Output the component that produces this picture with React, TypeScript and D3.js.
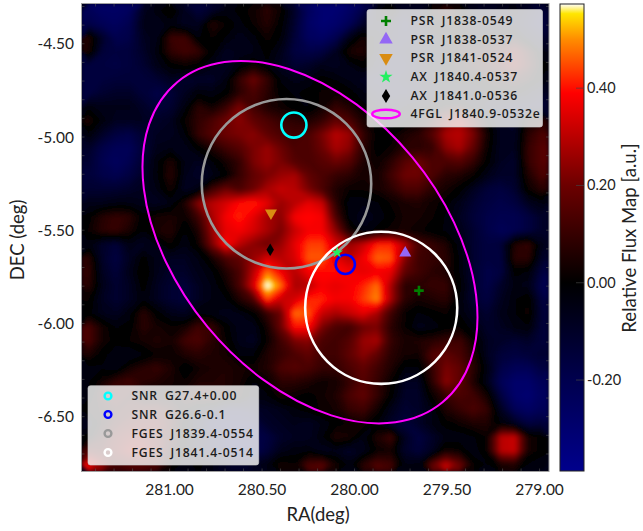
import * as d3 from "d3";

// relative flux x 100 on a coarse grid (row = DEC, top first; col = RA, left first)
const fluxRows: number[][] = [
  [-22,-26,-26,-24,-8,-3,3,-8,-14,-10,-4,0,3,8,2,-10,-24,-30,-30,-26,-18,-2,3,-8,-8,2,8,3,-5,-8,-5,-3,-8,-12],
  [-18,-22,-24,-20,-6,-6,-3,-8,-8,7,2,-3,2,7,0,-12,-26,-30,-28,-22,-10,-5,-6,-12,-6,0,2,0,-4,-5,-4,-5,-10,-14],
  [7,-10,-20,-18,-8,-5,11,12,-2,2,-2,-6,-3,3,-2,-14,-24,-26,-20,-5,4,-3,-8,-10,-8,-4,0,2,-2,0,3,3,-5,-10],
  [5,-14,-16,-15,-10,-3,9,12,10,0,-8,-6,-5,0,-6,-16,-18,-16,-8,5,6,-4,-10,-8,-6,-4,-2,2,4,6,10,18,8,-4],
  [-15,-16,-17,-15,-12,-6,0,2,0,-5,-8,-2,3,-2,-8,-12,-10,-6,-8,-4,0,-6,-10,-10,-6,-3,0,3,6,8,12,20,10,0],
  [-16,-15,-14,-14,-14,-12,-8,-10,-10,-10,-4,10,20,10,-2,-6,-4,0,-2,-5,-8,-10,-10,-8,-6,-4,-2,0,0,3,5,8,4,-2],
  [-16,-12,-10,-10,-14,-18,-14,-8,-2,-4,0,8,14,8,0,-2,0,2,3,0,-4,-8,-10,-10,-8,-6,-4,-4,-4,-2,0,0,-4,-8],
  [-3,-6,-6,-6,-10,-14,-12,-4,8,3,10,22,12,6,3,0,-2,3,10,6,0,-4,-6,-4,-2,-1,2,4,-2,-6,-8,-10,-10,-12],
  [6,-3,-8,-8,-8,-10,-8,2,9,14,20,24,18,14,10,8,6,10,18,14,5,0,-4,-2,2,8,20,26,14,0,-8,-10,4,8],
  [-2,-10,-16,-18,-12,-8,-8,-2,10,16,20,22,24,18,14,12,14,22,30,26,10,0,0,5,8,16,28,30,22,4,-8,-8,8,14],
  [-10,-18,-22,-22,-14,-6,-4,-6,0,6,12,16,22,26,20,14,14,20,28,24,8,0,2,8,8,10,24,28,18,2,-8,-8,10,16],
  [-12,-20,-24,-20,-12,-2,6,-4,-8,-2,4,10,22,26,22,16,14,16,20,16,6,2,8,16,20,14,14,16,10,0,-8,-10,10,16],
  [-14,-18,-20,-16,-10,-2,8,-6,-10,-6,0,10,18,22,26,28,18,14,10,8,4,4,12,20,20,14,8,6,2,-6,-10,-10,6,14],
  [-12,-12,-12,-10,-8,-4,4,-8,-4,12,20,14,20,28,32,30,22,14,6,2,2,4,8,14,14,8,4,0,-8,-14,-16,-12,2,8],
  [-6,-6,-4,-4,-6,-8,-4,6,24,30,34,40,42,36,26,30,36,32,8,-4,-4,-2,2,5,6,3,0,-6,-12,-16,-18,-16,-8,-4],
  [0,7,10,8,0,4,5,2,12,28,38,42,36,28,24,38,40,38,14,-3,-6,-4,0,4,4,2,-2,-8,-14,-18,-20,-20,-16,-10],
  [2,8,10,5,-2,5,7,-2,6,26,36,38,34,28,22,32,38,38,24,4,-4,0,3,4,2,0,-2,-6,-12,-18,-22,-20,-16,-10],
  [-3,-10,-14,-5,-8,-4,2,-4,2,22,40,30,24,20,26,36,44,44,34,26,32,42,42,30,14,10,6,-4,-12,-16,-14,6,10,-6],
  [8,-10,-16,-8,0,-6,-8,-8,-4,4,14,18,26,34,30,34,46,46,36,30,38,47,46,24,12,10,8,-2,-12,-16,-16,8,8,-10],
  [10,-8,-14,-6,2,-6,-10,-10,-6,-2,6,14,30,48,38,30,38,40,40,38,36,38,36,18,12,8,6,-2,-12,-18,-16,0,-2,-16],
  [8,-6,-12,-8,0,-8,-12,-14,-8,-4,2,14,34,60,48,28,30,38,36,38,42,48,28,8,8,10,10,0,-12,-18,-10,-4,-6,-20],
  [2,-8,-12,-8,-2,-8,-12,-14,-8,-4,-2,6,14,44,32,34,42,42,38,38,44,50,28,8,4,6,8,-2,-12,-16,-8,-2,2,-16],
  [0,-6,-8,-3,8,0,-6,-8,-2,-4,-6,-4,0,10,20,48,46,32,28,32,36,28,12,2,-2,0,2,-2,-8,-12,-6,-2,3,-14],
  [14,4,-2,0,8,4,2,4,12,10,0,-6,-6,4,20,40,40,22,14,12,20,22,8,2,-6,-4,0,2,-4,-10,-8,-4,-2,-14],
  [14,4,0,2,4,6,4,12,14,8,2,-6,-8,2,12,22,24,14,12,16,26,28,10,5,6,8,10,12,2,-8,-10,-12,-10,-14],
  [6,0,-4,-6,-2,2,2,6,8,6,4,-2,-2,6,10,14,18,12,12,18,24,18,8,4,3,15,18,14,6,-8,-14,-16,-14,-12],
  [-3,-2,-4,4,8,10,6,-2,3,5,6,4,3,6,14,16,14,10,10,14,18,12,6,-2,-2,10,22,18,8,-4,-18,-22,-22,-16],
  [-2,4,10,12,8,6,4,2,6,6,6,4,-2,2,8,8,6,3,4,10,16,10,2,-8,-8,8,24,18,6,-6,-22,-28,-28,-22],
  [-2,8,12,8,2,2,2,6,8,8,6,3,-4,-2,4,2,0,3,6,14,18,10,0,-10,-10,2,10,14,12,4,-16,-28,-30,-24],
  [2,4,8,10,12,12,8,2,-3,-6,-12,-12,-10,-8,-6,-2,0,2,4,10,12,4,-6,-12,-10,-4,6,10,14,10,-8,-22,-26,-22],
  [-5,4,10,14,16,16,10,0,-8,-14,-16,-16,-16,-10,-8,-6,-8,-4,0,2,4,-2,-10,-14,-10,-4,0,3,6,6,-2,-8,-16,-14],
  [0,8,16,20,20,16,8,0,-6,-12,-16,-18,-18,-16,-10,-8,-8,-2,6,4,-4,6,12,-8,-16,-10,-4,-4,-2,2,30,32,4,0],
  [14,12,18,24,24,18,6,-2,-8,-12,-16,-20,-20,-14,-6,-3,-2,-6,-6,-10,-6,2,4,-10,-14,-8,4,2,-4,2,30,32,4,0],
  [36,24,12,14,14,12,2,-3,0,-4,-8,-10,-8,-4,4,2,14,16,4,-3,8,15,12,-4,-4,18,32,20,2,-2,4,6,-2,-4],
];

const raTicks = [281, 280.5, 280, 279.5, 279];
const decTicks = [-4.5, -5, -5.5, -6, -6.5];
const cbarTicks = [0.4, 0.2, 0, -0.2];

const colorStops = [-0.387, -0.2, 0, 0.2, 0.39, 0.5, 0.553, 0.573];
const colorValues = ["#00008c", "#00004e", "#000000", "#6c0000", "#ff0000", "#ff8c00", "#ffe600", "#ffffff"];

const pointSources = [
  { name: "PSR J1838-0549", ra: 279.652, dec: -5.824, color: "#007f00", kind: "plus" },
  { name: "PSR J1838-0537", ra: 279.726, dec: -5.622, color: "#9467f5", kind: "up" },
  { name: "PSR J1841-0524", ra: 280.452, dec: -5.408, color: "#d98c12", kind: "down" },
  { name: "AX J1840.4-0537", ra: 280.094, dec: -5.619, color: "#22f060", kind: "star" },
  { name: "AX J1841.0-0536", ra: 280.456, dec: -5.605, color: "#000000", kind: "diamond" },
];

const circleSources = [
  { name: "SNR G27.4+0.00", ra: 280.328, dec: -4.936, radius: 0.068, color: "#00ffff" },
  { name: "SNR G26.6-0.1", ra: 280.05, dec: -5.683, radius: 0.052, color: "#0000ff" },
  { name: "FGES J1839.4-0554", ra: 280.368, dec: -5.251, radius: 0.458, color: "#999999" },
  { name: "FGES J1841.4-0514", ra: 279.856, dec: -5.916, radius: 0.411, color: "#ffffff" },
];

const ellipseSource = { name: "4FGL J1840.9-0532e", ra: 280.241, dec: -5.564, major: 1.115, minor: 0.713, angle: 50.4, color: "#ff00ff" };

const plot = { left: 81.5, right: 549, top: 3.5, bottom: 471.5 };
const cbar = { left: 560, right: 584, top: 4, bottom: 471 };
const font = "Lato, 'Noto Sans', sans-serif";
const legendFont = "'Open Sans', 'Noto Sans', sans-serif";

const x = d3.scaleLinear().domain([281.476, 278.949]).range([plot.left, plot.right]);
const y = d3.scaleLinear().domain([-4.284, -6.794]).range([plot.top, plot.bottom]);
const cbarY = d3.scaleLinear().domain([-0.387, 0.573]).range([cbar.bottom, cbar.top]);
const color = d3.scaleLinear<string>().domain(colorStops).range(colorValues).clamp(true);

const nRows = fluxRows.length;
const nCols = fluxRows[0].length;
const levels = d3.range(-40, 60, 0.5);
const bands = d3.contours().size([nCols, nRows]).thresholds(levels)(fluxRows.flat());
const gridPath = d3.geoPath();

const pxPerRa = Math.abs(x(280) - x(281));
const pxPerDec = Math.abs(y(-5.5) - y(-4.5));

// plain hyphen on the tick labels, like the reference
const fmt = (v: number) => d3.format(".2f")(v).replace("\u2212", "-");

const rangeBy = (a: number, b: number, step: number) => d3.range(a, b + step / 2, step);
const raMinor = rangeBy(279, 281.4, 0.1);
const decMinor = rangeBy(-6.7, -4.3, 0.1);

function Marker({ kind, cx, cy, color: c, size }: { kind: string; cx: number; cy: number; color: string; size: number }) {
  if (kind === "plus") {
    return <path d={`M${cx - size},${cy}H${cx + size}M${cx},${cy - size}V${cy + size}`} stroke={c} strokeWidth={2.6} fill="none" />;
  }
  if (kind === "diamond") {
    return <path d={`M${cx},${cy - size * 1.25}L${cx + size * 0.75},${cy}L${cx},${cy + size * 1.25}L${cx - size * 0.75},${cy}Z`} fill={c} />;
  }
  const type = kind === "star" ? d3.symbolStar : d3.symbolTriangle;
  const area = kind === "star" ? size * size * 1.7 : size * size * 2.5;
  const rot = kind === "down" ? 180 : 0;
  return <path d={d3.symbol().type(type).size(area)() ?? ""} transform={`translate(${cx},${cy}) rotate(${rot})`} fill={c} />;
}

function Legend() {
  const rowsTop = [21, 39.5, 58, 77, 96];
  const rowsBottom = [396, 414.5, 433.5, 452.5];
  const textStyle = { fontFamily: legendFont, fontSize: 12.2, fontWeight: 600, fill: "#1c1c1c", letterSpacing: 0.8, wordSpacing: 3 };
  return (
    <g>
      <rect x={367} y={9.5} width={175.5} height={117.5} rx={2.5} fill="#fff" fillOpacity={0.8} stroke="#ccc" strokeOpacity={0.8} strokeWidth={0.8} />
      {pointSources.map((s, i) => (
        <g key={s.name}>
          <Marker kind={s.kind} cx={386} cy={rowsTop[i]} color={s.color} size={s.kind === "plus" ? 5 : 5.6} />
          <text x={410.5} y={rowsTop[i] + 4.2} style={textStyle}>{s.name}</text>
        </g>
      ))}
      <ellipse cx={386} cy={114} rx={13.8} ry={4.3} fill="none" stroke={ellipseSource.color} strokeWidth={2.4} />
      <text x={410.5} y={118.2} style={textStyle}>{ellipseSource.name}</text>

      <rect x={88} y={385.7} width={170.7} height={79.3} rx={2.5} fill="#fff" fillOpacity={0.8} stroke="#ccc" strokeOpacity={0.8} strokeWidth={0.8} />
      {circleSources.map((s, i) => (
        <g key={s.name}>
          <circle cx={108} cy={rowsBottom[i]} r={3.4} fill="none" stroke={s.color} strokeWidth={2.4} />
          <text x={131.5} y={rowsBottom[i] + 4.2} style={textStyle}>{s.name}</text>
        </g>
      ))}
    </g>
  );
}

export default function App() {
  const tickStyle = { fontFamily: font, fontSize: 15.5, fill: "#222" };
  return (
    <svg width={643} height={531} style={{ position: "absolute", left: 0, top: 0, background: "#fff" }}>
      <defs>
        <clipPath id="plotClip">
          <rect x={plot.left} y={plot.top} width={plot.right - plot.left} height={plot.bottom - plot.top} />
        </clipPath>
        <filter id="soften" x="-5%" y="-5%" width="110%" height="110%">
          <feGaussianBlur stdDeviation={2} />
        </filter>
        <linearGradient id="cbarGrad" x1="0" y1="1" x2="0" y2="0">
          {colorStops.map((v, i) => (
            <stop key={v} offset={(v - colorStops[0]) / (colorStops[colorStops.length - 1] - colorStops[0])} stopColor={colorValues[i]} />
          ))}
        </linearGradient>
      </defs>

      {/* flux map */}
      <g clipPath="url(#plotClip)">
        <rect x={plot.left} y={plot.top} width={plot.right - plot.left} height={plot.bottom - plot.top} fill="#000018" />
        <g filter="url(#soften)">
          <g transform={`translate(${plot.left},${plot.top}) scale(${(plot.right - plot.left) / nCols},${(plot.bottom - plot.top) / nRows})`}>
            {bands.map((b) => (
              <path key={b.value} d={gridPath(b) ?? ""} fill={color(b.value / 100)} stroke="none" />
            ))}
          </g>
        </g>

        <ellipse
          cx={x(ellipseSource.ra)}
          cy={y(ellipseSource.dec)}
          rx={ellipseSource.major * pxPerDec}
          ry={ellipseSource.minor * pxPerDec}
          transform={`rotate(${ellipseSource.angle} ${x(ellipseSource.ra)} ${y(ellipseSource.dec)})`}
          fill="none"
          stroke={ellipseSource.color}
          strokeWidth={2}
        />
        {[circleSources[2], circleSources[3], circleSources[0], circleSources[1]].map((s) => (
          <circle key={s.name} cx={x(s.ra)} cy={y(s.dec)} r={s.radius * pxPerRa} fill="none" stroke={s.color} strokeWidth={2.6} />
        ))}
        {pointSources.map((s) => (
          <Marker key={s.name} kind={s.kind} cx={x(s.ra)} cy={y(s.dec)} color={s.color} size={s.kind === "plus" ? 4.8 : 5} />
        ))}
      </g>

      {/* minor ticks, inward on all four sides */}
      {raMinor.map((v) => (
        <g key={v} stroke="#555" strokeWidth={0.6}>
          <line x1={x(v)} x2={x(v)} y1={plot.top} y2={plot.top + 3} />
          <line x1={x(v)} x2={x(v)} y1={plot.bottom} y2={plot.bottom - 3} />
        </g>
      ))}
      {decMinor.map((v) => (
        <g key={v} stroke="#555" strokeWidth={0.6}>
          <line x1={plot.left} x2={plot.left + 3} y1={y(v)} y2={y(v)} />
          <line x1={plot.right} x2={plot.right - 3} y1={y(v)} y2={y(v)} />
        </g>
      ))}
      <rect x={plot.left} y={plot.top} width={plot.right - plot.left} height={plot.bottom - plot.top} fill="none" stroke="#a0a0a0" strokeWidth={1} />

      <Legend />

      {raTicks.map((v) => (
        <text key={v} x={x(v)} y={495} textAnchor="middle" style={tickStyle}>{fmt(v)}</text>
      ))}
      {decTicks.map((v) => (
        <text key={v} x={74} y={y(v) + 5.5} textAnchor="end" style={tickStyle}>{fmt(v)}</text>
      ))}
      <text x={318} y={521} textAnchor="middle" style={{ fontFamily: font, fontSize: 18.5, fill: "#222" }}>RA(deg)</text>
      <text transform="translate(24,240) rotate(-90)" textAnchor="middle" style={{ fontFamily: font, fontSize: 18.5, fill: "#222" }}>DEC (deg)</text>

      {/* colour bar */}
      <rect x={cbar.left} y={cbar.top} width={cbar.right - cbar.left} height={cbar.bottom - cbar.top} fill="url(#cbarGrad)" stroke="#222" strokeWidth={1} />
      {cbarTicks.map((v) => (
        <g key={v}>
          <line x1={cbar.right - 8} x2={cbar.right} y1={cbarY(v)} y2={cbarY(v)} stroke="#444" strokeWidth={0.7} />
          <text x={587} y={cbarY(v) + 5} style={{ fontFamily: font, fontSize: 14.5, fill: "#222" }}>{fmt(v)}</text>
        </g>
      ))}
      <text transform="translate(636,238) rotate(-90)" textAnchor="middle" style={{ fontFamily: font, fontSize: 18.6, fill: "#222" }}>Relative Flux Map [a.u.]</text>
    </svg>
  );
}
